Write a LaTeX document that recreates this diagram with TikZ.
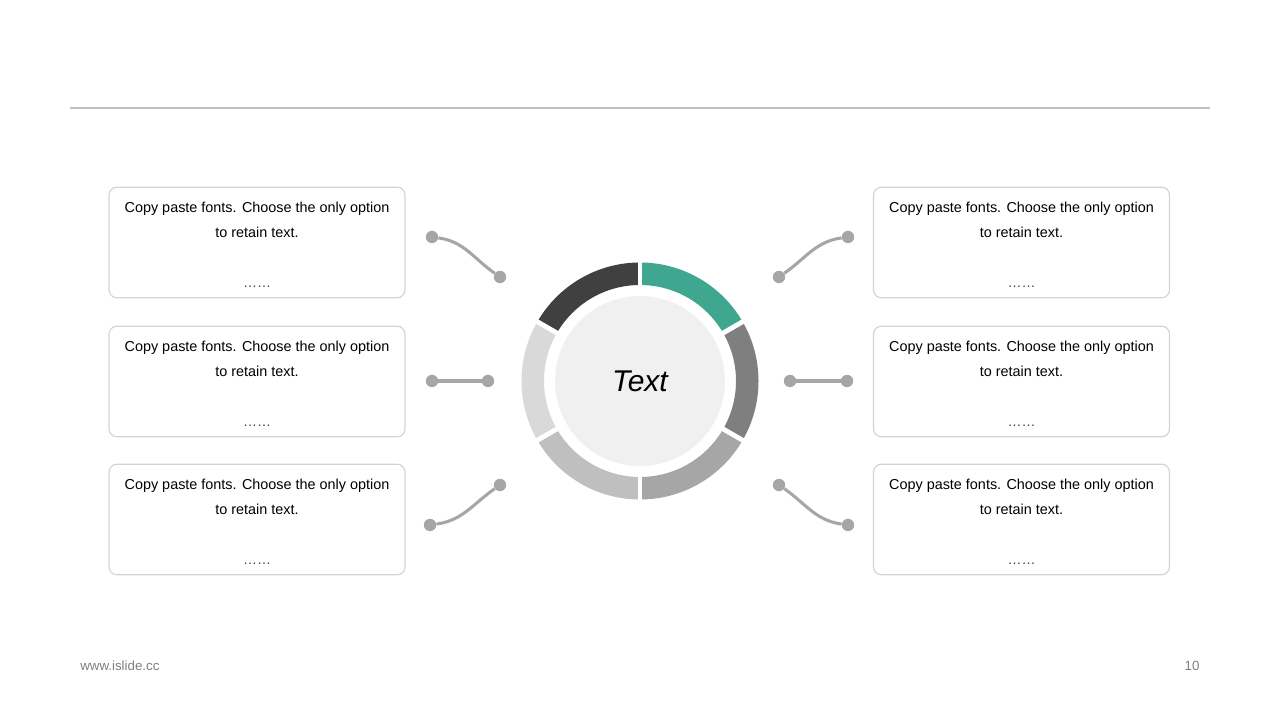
\documentclass[tikz,border=0pt]{standalone}
\usepackage{fontspec}
\setmainfont{Liberation Sans}
\usetikzlibrary{positioning}
\definecolor{segteal}{HTML}{3FA78F}
\definecolor{segdark}{HTML}{404040}
\definecolor{segmid}{HTML}{7F7F7F}
\definecolor{seggray}{HTML}{A6A6A6}
\definecolor{seglight}{HTML}{BFBFBF}
\definecolor{segpale}{HTML}{D9D9D9}
\definecolor{discfill}{HTML}{F0F0F0}
\definecolor{boxline}{HTML}{D4D4D4}
\begin{document}
\begin{tikzpicture}[
            x=0.75pt, y=0.75pt,
            card/.style={draw=boxline, line width=0.9pt, rounded corners=6pt, minimum width=222pt, minimum height=83pt, inner sep=0pt}, % 文本框
            cardtext/.style={align=center, font=\fontsize{10.8}{18.75}\selectfont, inner sep=0pt},
            more/.style={font=\fontsize{10.5}{12}\selectfont, text=black!75, inner sep=0pt},
            dot/.style={circle, fill=seggray, minimum size=9.3pt, inner sep=0pt}, % 连接点
            link/.style={draw=seggray, line width=2.3pt}
        ]
        \useasboundingbox (0,0) rectangle (1280,720);

        % 顶部横线
        \draw[seglight, line width=0.8pt] (70,612) -- (1210,612);

        % 绘制圆环
        \coordinate (C) at (640,339);
        \fill[segteal] ([shift={(90:118.5)}]C) arc[start angle=90, end angle=30, radius=118.5] -- ([shift={(30:96)}]C) arc[start angle=30, end angle=90, radius=96] -- cycle;
        \fill[segmid] ([shift={(30:118.5)}]C) arc[start angle=30, end angle=-30, radius=118.5] -- ([shift={(-30:96)}]C) arc[start angle=-30, end angle=30, radius=96] -- cycle;
        \fill[seggray] ([shift={(-30:118.5)}]C) arc[start angle=-30, end angle=-90, radius=118.5] -- ([shift={(-90:96)}]C) arc[start angle=-90, end angle=-30, radius=96] -- cycle;
        \fill[seglight] ([shift={(-90:118.5)}]C) arc[start angle=-90, end angle=-150, radius=118.5] -- ([shift={(-150:96)}]C) arc[start angle=-150, end angle=-90, radius=96] -- cycle;
        \fill[segpale] ([shift={(210:118.5)}]C) arc[start angle=210, end angle=150, radius=118.5] -- ([shift={(150:96)}]C) arc[start angle=150, end angle=210, radius=96] -- cycle;
        \fill[segdark] ([shift={(150:118.5)}]C) arc[start angle=150, end angle=90, radius=118.5] -- ([shift={(90:96)}]C) arc[start angle=90, end angle=150, radius=96] -- cycle;
        \foreach \a in {90,30,-30,-90,-150,150}
            \draw[white, line width=3.6pt] ([shift={(\a:90)}]C) -- ([shift={(\a:125)}]C);
        \fill[discfill] (C) circle[radius=85];
        \node[font=\fontsize{22.5}{27}\selectfont\itshape] (T) at (C) {Text};

        % 左侧文本框
        \node[card] (L1) at (257,477.5) {};
        \node[card] (L2) at (257,338.5) {};
        \node[card] (L3) at (257,200.5) {};
        % 右侧文本框
        \node[card] (R1) at (1021.5,477.5) {};
        \node[card] (R2) at (1021.5,338.5) {};
        \node[card] (R3) at (1021.5,200.5) {};

        % 框内文字
        \foreach \b in {L1,L2,L3,R1,R2,R3} {
            \node[cardtext, anchor=north] at ([yshift=-11.5pt]\b.north) {Copy paste fonts. Choose the only option\\to retain text.};
            \node[more, anchor=base] at ([yshift=8.2pt]\b.south) {……};
        }

        % 左侧连线
        \node[dot] (L1a) at (432,483) {};
        \node[dot] (L1b) at (500,443) {};
        \draw[link] (L1a) to[out=-8, in=145] (L1b);
        \node[dot] (L2a) at (432,339) {};
        \node[dot] (L2b) at (488,339) {};
        \draw[link] (L2a) -- (L2b);
        \node[dot] (L3a) at (430,195) {};
        \node[dot] (L3b) at (500,235) {};
        \draw[link] (L3a) to[out=8, in=215] (L3b);

        % 右侧连线
        \node[dot] (R1a) at (779,443) {};
        \node[dot] (R1b) at (848,483) {};
        \draw[link] (R1a) to[out=35, in=188] (R1b);
        \node[dot] (R2a) at (790,339) {};
        \node[dot] (R2b) at (847,339) {};
        \draw[link] (R2a) -- (R2b);
        \node[dot] (R3a) at (779,235) {};
        \node[dot] (R3b) at (848,195) {};
        \draw[link] (R3a) to[out=-35, in=172] (R3b);

        % 页脚
        \node[anchor=west, font=\fontsize{10}{12}\selectfont, text=segmid, inner sep=0pt] (web) at (80,54) {www.islide.cc};
        \node[font=\fontsize{10}{12}\selectfont, text=segmid, inner sep=0pt] (page) at (1192,54) {10};

    \end{tikzpicture}
\end{document}
